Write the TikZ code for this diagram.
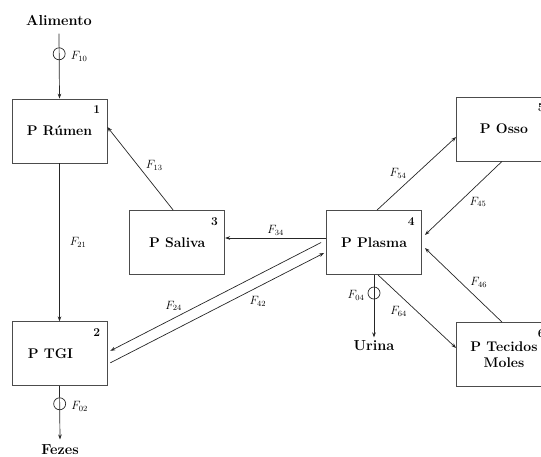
\documentclass[tikz,border=0pt]{standalone}
\usetikzlibrary{arrows.meta,positioning,calc}
\begin{document}
\begin{tikzpicture}[x=1pt,y=-1pt,>={Stealth[length=5pt,width=3.6pt]},
 box/.style={draw=black!70,line width=0.8pt,minimum width=95pt,minimum height=64pt,align=center,inner sep=2pt,font=\fontsize{14}{16}\selectfont\bfseries},
 num/.style={anchor=north east,inner sep=0pt,xshift=-7pt,yshift=-7pt,font=\fontsize{12}{14}\selectfont\bfseries},
 flow/.style={->,draw=black!85,line width=0.7pt},
 flab/.style={inner sep=2pt,font=\fontsize{11.5}{13}\selectfont},
 valve/.style={draw=black!85,circle,line width=0.7pt,minimum size=12pt,inner sep=0pt},
 ext/.style={font=\fontsize{14.5}{16}\selectfont\bfseries}]
\useasboundingbox (0,0) rectangle (541,457);
\clip (0,0) rectangle (541,457);
% compartments
\node[box,label={[num]north east:1}] (rumen) at (59.5,131) {P R\'umen};
\node[box,below=158pt of rumen,label={[num]north east:2}] (tgi) {P TGI\hspace*{18pt}};
\node[box,label={[num]north east:4}] (plasma) at (374,242.5) {P Plasma};
\node[box,left=101pt of plasma,label={[num]north east:3}] (saliva) {P Saliva};
\node[box,label={[num]north east:5}] (osso) at (504,129) {P Osso};
\node[box,label={[num]north east:6}] (tecidos) at (504,354.5) {P Tecidos\\Moles};
% inputs and outputs
\node[ext] (alim) at (59,20) {Alimento};
\node[ext] (fezes) at (60,450) {Fezes};
\node[ext] (urina) at (374,346) {Urina};
\draw[flow] ([yshift=-5pt]alim.south) -- node[valve,pos=0.31,label={[flab,label distance=3pt,yshift=-3pt]right:$F_{10}$}] (v10) {} (rumen.north);
\draw[flow] (tgi.south) -- node[valve,pos=0.33,label={[flab,label distance=3pt,yshift=-3pt]right:$F_{02}$}] (v02) {} ([yshift=2pt]fezes.north);
\draw[flow] (plasma.south) -- node[valve,pos=0.29,label={[flab,label distance=1pt,yshift=-2pt]left:$F_{04}$}] (v04) {} (urina.north);
% flows between compartments
\draw[flow] (rumen.south) -- node[flab,right=8pt,pos=0.5] {$F_{21}$} (tgi.north);
\draw[flow] ([xshift=-4pt]saliva.north) -- node[flab,above right,pos=0.45] {$F_{13}$} ([yshift=4pt]rumen.east);
\draw[flow] ([yshift=4.5pt]plasma.west) -- node[flab,above,pos=0.5] {$F_{34}$} ([yshift=4.5pt]saliva.east);
\draw[flow] ([xshift=-5pt]plasma.west) -- node[flab,above=5pt,pos=0.7] {$F_{24}$} ([xshift=3pt,yshift=3pt]tgi.east);
\draw[flow] ([xshift=3pt,yshift=-9pt]tgi.east) -- node[flab,below=7pt,pos=0.69] {$F_{42}$} ([xshift=-2pt,yshift=-10.5pt]plasma.west);
\draw[flow] ([xshift=3pt]plasma.north) -- node[flab,above left,pos=0.4] {$F_{54}$} ([yshift=-8pt]osso.west);
\draw[flow] ([xshift=-2pt]osso.south) -- node[flab,below right,pos=0.45] {$F_{45}$} ([xshift=3pt,yshift=7.5pt]plasma.east);
\draw[flow] ([xshift=-2pt]tecidos.north) -- node[flab,above right,pos=0.44] {$F_{46}$} ([xshift=3pt,yshift=-5.5pt]plasma.east);
\draw[flow] ([xshift=4pt]plasma.south) -- node[flab,below left,pos=0.4] {$F_{64}$} ([yshift=6.5pt]tecidos.west);
\end{tikzpicture}
\end{document}
